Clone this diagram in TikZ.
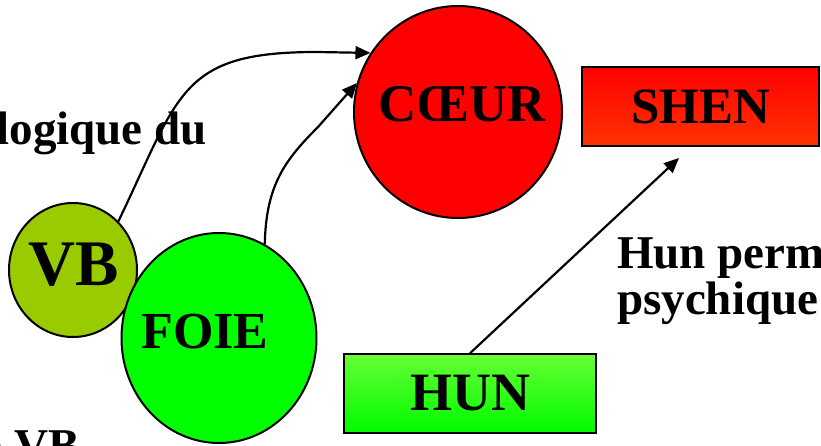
\documentclass[tikz,border=0pt]{standalone}
\usepackage{fontspec}
\setmainfont{Liberation Serif}
\usetikzlibrary{arrows.meta,shapes.geometric}
\definecolor{vbgreen}{RGB}{153,204,0}
\definecolor{foiegreen}{RGB}{0,255,0}
\definecolor{coeurred}{RGB}{255,0,0}
\definecolor{shenT}{RGB}{255,0,0}
\definecolor{shenB}{RGB}{255,51,0}
\definecolor{hunT}{RGB}{102,255,51}
\definecolor{hunB}{RGB}{0,250,0}
\begin{document}
\begin{tikzpicture}[x=1pt,y=-1pt,
  organ/.style={ellipse,draw=black,line width=2pt,inner sep=0pt},
  lbl/.style={inner sep=0pt,font=\bfseries\fontsize{#1}{#1}\selectfont},
  box/.style={rectangle,draw=black,line width=1.5pt,inner sep=0pt},
  conn/.style={line width=2.2pt,-{Triangle[length=15pt,width=13pt]}}
]
\useasboundingbox (0,0) rectangle (821,446);
\clip (0,0) rectangle (821,446);
% circles
\node[organ,fill=vbgreen,minimum width=128pt,minimum height=134pt] (vb) at (73,270) {};
\node[organ,fill=foiegreen,minimum width=195pt,minimum height=210pt] (foie) at (219,338) {};
\node[organ,fill=coeurred,minimum width=208pt,minimum height=212pt] (coeur) at (458,112) {};
% labels in circles
\node[lbl=65,anchor=base] (vbt) at (73.5,285) {VB};
\node[lbl=52,anchor=base] (foiet) at (205,348) {FOIE};
\node[lbl=53,anchor=base] (coeurt) at (462,122) {CŒUR};
% free texts
\node[lbl=47,anchor=base east] (logt) at (207,145) {logique du};
\node[lbl=47,anchor=base west] (hunt1) at (617,269) {Hun perm};
\node[lbl=47,anchor=base west] (hunt2) at (617,314) {psychique};
\node[lbl=47,anchor=base east] (vbt2) at (80,461) {e VB};
% boxes
\node[box,top color=shenT,bottom color=shenB,minimum width=237pt,minimum height=79pt,lbl=51] (shen) at (700.5,106.5) {SHEN};
\node[box,top color=hunT,bottom color=hunB,minimum width=252pt,minimum height=79pt,lbl=54] (hun) at (470,393.5) {HUN};
% connectors
\coordinate (shenin) at (679,158);
\draw[conn] (vb.47) .. controls (180,93) and (180,52) .. (317,52) -- (coeur.146);
\draw[conn] (foie.64) .. controls (266,185) and (285,160) .. (318,127) -- (coeur.164);
\draw[conn] (hun.north) -- (shenin);
\end{tikzpicture}
\end{document}
